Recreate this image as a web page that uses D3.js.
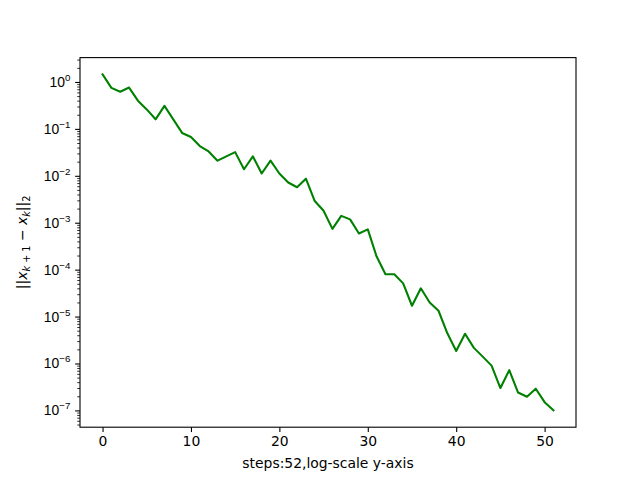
<!DOCTYPE html>
<html>
<head>
<meta charset="utf-8">
<script src="https://cdn.jsdelivr.net/npm/d3@7"></script>
<style>
  html, body { margin: 0; padding: 0; background: #fff; }
  svg { display: block; font-family: "DejaVu Sans", sans-serif; }
</style>
</head>
<body>
<svg id="chart" width="640" height="480"></svg>
<script>
// ---- data ----
const steps = [0,1,2,3,4,5,6,7,8,9,10,11,12,13,14,15,16,17,18,19,20,21,22,23,24,25,
               26,27,28,29,30,31,32,33,34,35,36,37,38,39,40,41,42,43,44,45,46,47,48,49,50,51];
const diffNorm = [
  1.45, 0.75, 0.62, 0.76, 0.40, 0.26, 0.16, 0.31, 0.16, 0.082,
  0.067, 0.043, 0.033, 0.021, 0.026, 0.032, 0.0138, 0.026, 0.0112, 0.021,
  0.0112, 0.0072, 0.0057, 0.0087, 0.0029, 0.0018, 0.00074, 0.0014, 0.00118, 0.00059,
  0.00072, 0.00019, 8.0e-5, 8.0e-5, 5.1e-5, 1.7e-5, 4.0e-5, 2.0e-5, 1.33e-5, 4.4e-6,
  1.85e-6, 4.3e-6, 2.15e-6, 1.4e-6, 9.0e-7, 3.0e-7, 7.2e-7, 2.4e-7, 1.95e-7, 2.9e-7,
  1.5e-7, 1.0e-7
];
const xTicks = [0, 10, 20, 30, 40, 50];
const yTickExps = [0, -1, -2, -3, -4, -5, -6, -7];
const xLabel = "steps:52,log-scale y-axis";

// ---- layout (matplotlib default figure) ----
const W = 640, H = 480;
const L = 80, R = 576, T = 57.6, B = 427.2;
const svg = d3.select("#chart");

const xMin = d3.min(steps), xMax = d3.max(steps);
const xPad = (xMax - xMin) * 0.05;
const x = d3.scaleLinear().domain([xMin - xPad, xMax + xPad]).range([L, R]);

const lmin = Math.log10(d3.min(diffNorm)), lmax = Math.log10(d3.max(diffNorm));
const lPad = (lmax - lmin) * 0.05;
const y = d3.scaleLog().domain([Math.pow(10, lmin - lPad), Math.pow(10, lmax + lPad)]).range([B, T]);

// ---- line ----
const line = d3.line().x((d, i) => x(steps[i])).y(d => y(d));
svg.append("path")
  .datum(diffNorm)
  .attr("d", line)
  .attr("fill", "none")
  .attr("stroke", "#008000")
  .attr("stroke-width", 2.08)
  .attr("stroke-linejoin", "round")
  .attr("stroke-linecap", "square");

// ---- spines ----
svg.append("rect")
  .attr("x", L).attr("y", T).attr("width", R - L).attr("height", B - T)
  .attr("fill", "none").attr("stroke", "#000").attr("stroke-width", 1.1);

// ---- x axis ----
const xAxis = d3.axisBottom(x).tickValues(xTicks).tickSize(4.86).tickPadding(4.5).tickFormat(d3.format("d"));
const gx = svg.append("g").attr("transform", `translate(0,${B})`).call(xAxis);
gx.select(".domain").remove();
gx.selectAll(".tick line").attr("stroke", "#000").attr("stroke-width", 1.1);
gx.selectAll(".tick text").attr("font-size", 13.9).attr("font-family", "DejaVu Sans").attr("fill", "#000");

svg.append("text")
  .attr("x", (L + R) / 2).attr("y", 468)
  .attr("text-anchor", "middle")
  .attr("font-size", 13.9).attr("fill", "#000")
  .text(xLabel);

// ---- y axis ----
const yMajor = yTickExps.map(e => Math.pow(10, e));
const [d0, d1] = y.domain();
const yMinor = [];
for (let e = -9; e <= 1; e++) {
  for (let m = 2; m <= 9; m++) {
    const v = m * Math.pow(10, e);
    if (v >= d0 && v <= d1) yMinor.push(v);
  }
}
const yAxisMinor = d3.axisLeft(y).tickValues(yMinor).tickSize(2.78).tickFormat("");
const gym = svg.append("g").attr("transform", `translate(${L},0)`).call(yAxisMinor);
gym.select(".domain").remove();
gym.selectAll(".tick line").attr("stroke", "#000").attr("stroke-width", 0.8);

const yAxis = d3.axisLeft(y).tickValues(yMajor).tickSize(4.86).tickFormat("");
const gy = svg.append("g").attr("transform", `translate(${L},0)`).call(yAxis);
gy.select(".domain").remove();
gy.selectAll(".tick line").attr("stroke", "#000").attr("stroke-width", 1.1);

// tick labels 10^e
gy.selectAll(".tick").each(function(d) {
  const e = Math.round(Math.log10(d));
  const t = d3.select(this).append("text")
    .attr("x", -9.7).attr("y", 0).attr("dy", "0.32em")
    .attr("text-anchor", "end")
    .attr("font-size", 13.9).attr("fill", "#000");
  t.append("tspan").text("10");
  t.append("tspan").attr("dy", -6).attr("font-size", 9.7)
    .text(e < 0 ? "\u2212" + Math.abs(e) : String(e));
});

// y label: ||x_{k+1} − x_k||_2
const yl = svg.append("text")
  .attr("transform", `translate(27,${(T + B) / 2}) rotate(-90)`)
  .attr("text-anchor", "middle")
  .attr("font-size", 13.9).attr("fill", "#000");
yl.append("tspan").text("||");
yl.append("tspan").attr("font-style", "italic").text("x");
yl.append("tspan").attr("font-size", 9.7).attr("dy", 3).attr("font-style", "italic").text("k");
yl.append("tspan").attr("font-size", 9.7).text(" + 1");
yl.append("tspan").attr("dy", -3).text(" \u2212 ");
yl.append("tspan").attr("font-style", "italic").text("x");
yl.append("tspan").attr("font-size", 9.7).attr("dy", 3).attr("font-style", "italic").text("k");
yl.append("tspan").attr("dy", -3).text("||");
yl.append("tspan").attr("font-size", 9.7).attr("dy", 3).text("2");
</script>
</body>
</html>
